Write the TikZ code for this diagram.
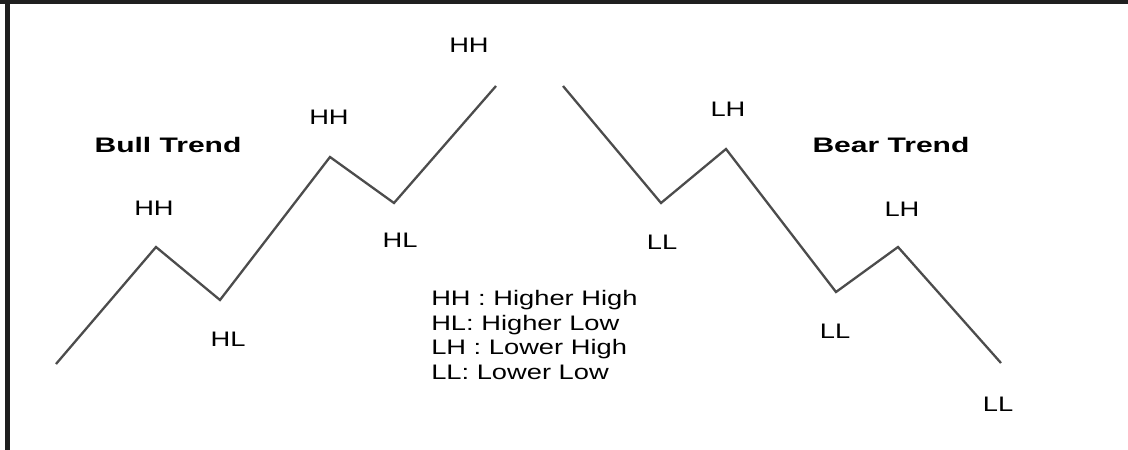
\documentclass[tikz,border=0pt]{standalone}
\usepackage{fontspec}
\setmainfont{Liberation Sans}
\begin{document}
\begin{tikzpicture}[x=1pt, y=-1pt,
  every node/.append style={font=\fontsize{21}{24.7}\selectfont, xscale=1.3, inner sep=0pt},
  trend/.style={draw=black!70, line width=2.3pt},
  heading/.style={font=\fontsize{21}{24.7}\selectfont\bfseries, xscale=1.1}]
  \useasboundingbox (0,0) rectangle (1128,450);
  % rand
  \fill[black!88] (0,0) rectangle (1128,4);
  \fill[black!88] (5,0) rectangle (10,450);
  % bull trend
  \coordinate (b0) at (56,364);
  \coordinate (b1) at (156,247);
  \coordinate (b2) at (220,300);
  \coordinate (b3) at (330,157);
  \coordinate (b4) at (394,203);
  \coordinate (b5) at (496,86);
  \draw[trend] (b0) -- (b1) -- (b2) -- (b3) -- (b4) -- (b5);
  \node[heading] (bull) at (168,145) {Bull Trend};
  \node (hh1) at (154,208) {HH};
  \node (hl1) at (228,339) {HL};
  \node (hh2) at (329,117) {HH};
  \node (hl2) at (400,240) {HL};
  \node (hh3) at (469,45) {HH};
  % bear trend
  \coordinate (r0) at (563,86);
  \coordinate (r1) at (661,203);
  \coordinate (r2) at (726,149);
  \coordinate (r3) at (836,292);
  \coordinate (r4) at (898,247);
  \coordinate (r5) at (1001,363);
  \draw[trend] (r0) -- (r1) -- (r2) -- (r3) -- (r4) -- (r5);
  \node[heading] (bear) at (891,145) {Bear Trend};
  \node (ll1) at (662,242) {LL};
  \node (lh1) at (728,109) {LH};
  \node (ll2) at (835,331) {LL};
  \node (lh2) at (902,209) {LH};
  \node (ll3) at (998,404) {LL};
  % legende
  \node[anchor=west, align=left] (legend) at (431,335)
    {HH : Higher High\\HL: Higher Low\\LH : Lower High\\LL: Lower Low};
\end{tikzpicture}
\end{document}
